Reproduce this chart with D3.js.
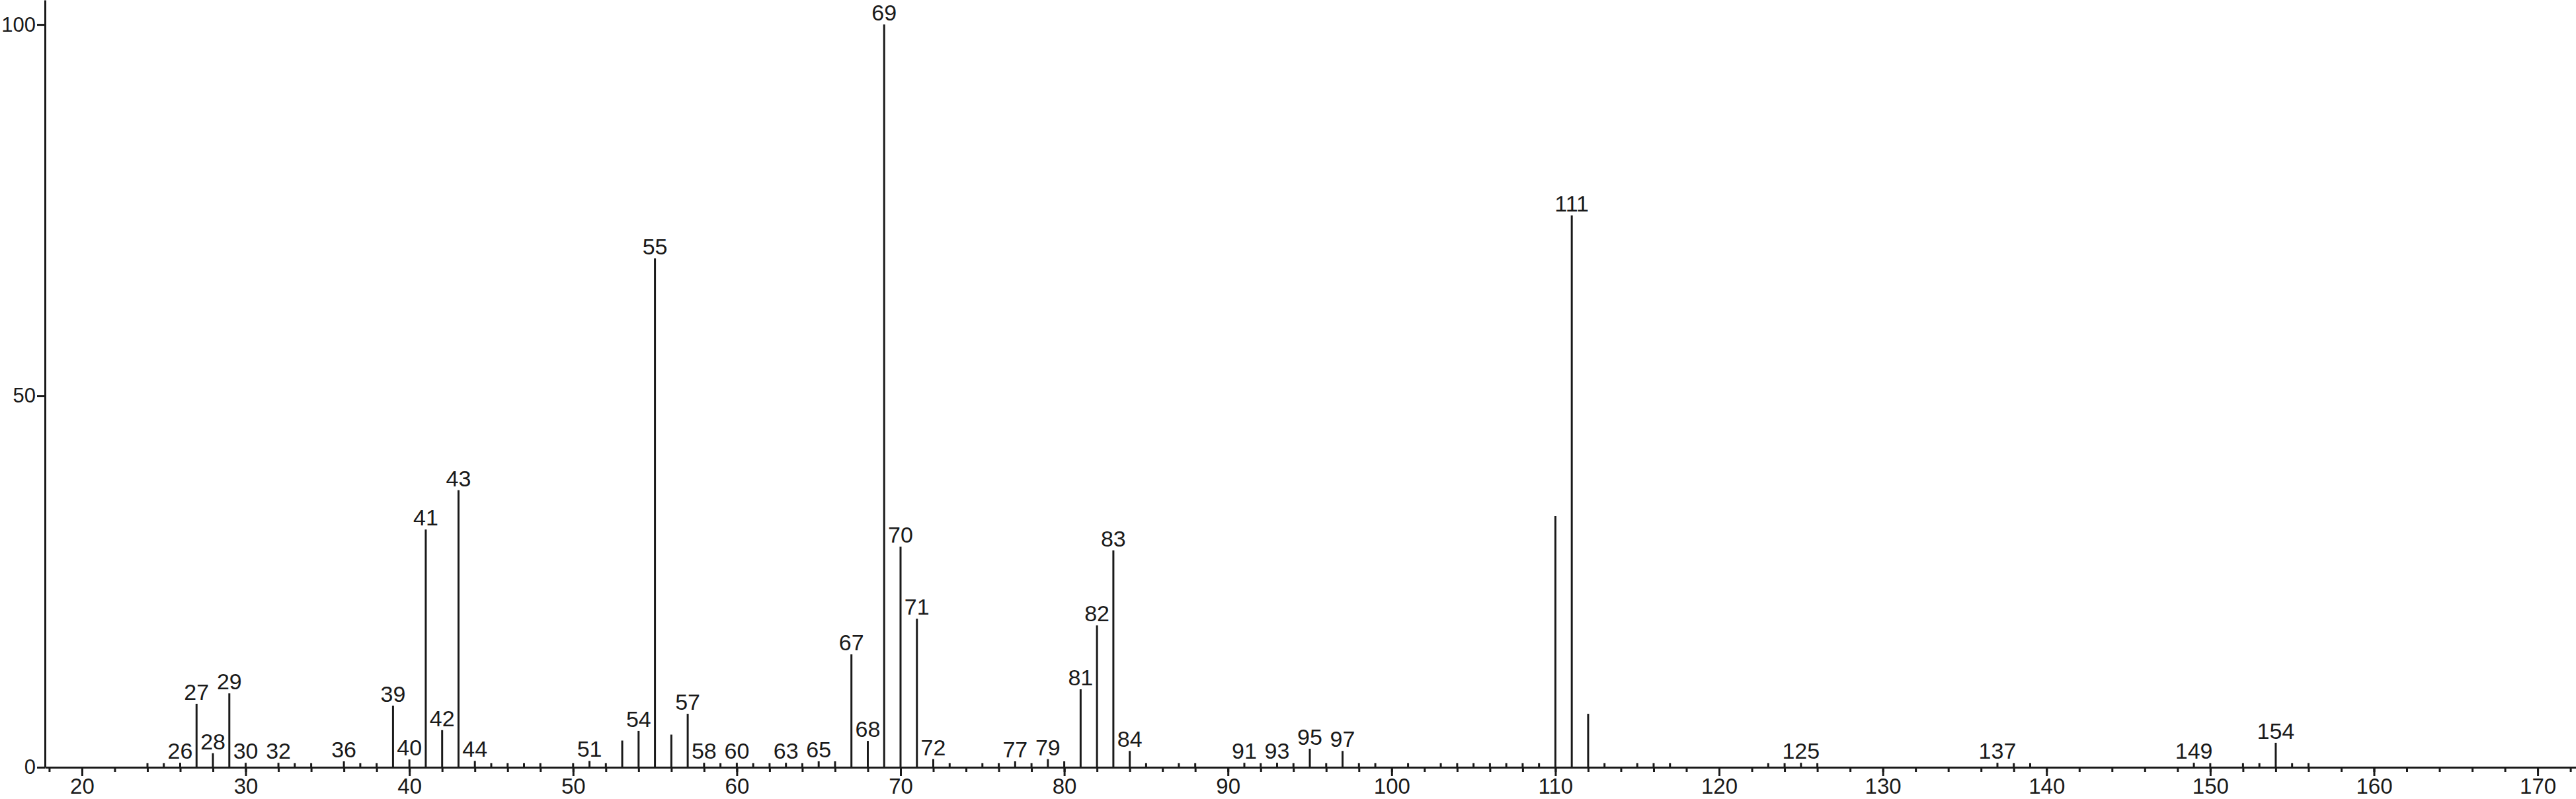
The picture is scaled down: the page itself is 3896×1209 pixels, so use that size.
<!DOCTYPE html>
<html>
<head>
<meta charset="utf-8">
<script src="https://cdn.jsdelivr.net/npm/d3@7"></script>
<style>
  body { margin: 0; background: #fff; }
  text { font-family: "Liberation Sans", Arial, sans-serif; fill: #1a1a1a; }
</style>
</head>
<body>
<div id="spectrum"></div>
<script>

// m/z of every peak in the spectrum.
var mz = [24, 25, 26, 27, 28, 29, 30, 32, 33, 34, 36, 37, 38, 39, 40, 41, 42, 43, 44, 45,
  46, 47, 48, 50, 51, 52, 53, 54, 55, 56, 57, 58, 59, 60, 61, 62, 63, 64, 65, 66,
  67, 68, 69, 70, 71, 72, 73, 75, 76, 77, 78, 79, 80, 81, 82, 83, 84, 85, 87, 88,
  91, 92, 93, 94, 95, 96, 97, 98, 99, 101, 103, 104, 105, 106, 107, 108, 109, 110, 111, 112,
  113, 115, 116, 117, 123, 124, 125, 126, 137, 138, 139, 149, 150, 152, 153, 154, 155, 156];

// Relative abundance (%) of each peak, same order as mz.
var abundance = [0.55, 0.55, 0.6, 8.55, 1.9, 9.95, 0.6, 0.6, 0.55, 0.55, 0.8, 0.55, 0.55, 8.3, 1.05, 32.0, 5.0, 37.3, 0.85, 0.55,
  0.55, 0.55, 0.55, 0.55, 0.85, 0.55, 3.6, 4.9, 68.5, 4.4, 7.2, 0.6, 0.55, 0.6, 0.55, 0.55, 0.6, 0.55, 0.8, 0.8,
  15.2, 3.55, 100, 29.7, 20.0, 1.1, 0.55, 0.55, 0.55, 0.8, 0.55, 1.1, 0.8, 10.5, 19.1, 29.2, 2.2, 0.55, 0.55, 0.55,
  0.6, 0.55, 0.6, 0.55, 2.5, 0.55, 2.2, 0.55, 0.55, 0.55, 0.55, 0.55, 0.55, 0.55, 0.55, 0.55, 0.55, 33.8, 74.3, 7.2,
  0.55, 0.55, 0.55, 0.55, 0.55, 0.55, 0.6, 0.55, 0.6, 0.55, 0.55, 0.6, 0.55, 0.55, 0.55, 3.3, 0.55, 0.56];

// Peaks that carry an m/z label.
var labeled = [26, 27, 28, 29, 30, 32, 36, 39, 40, 41, 42, 43, 44, 51, 54, 55, 57, 58, 60, 63,
  65, 67, 68, 69, 70, 71, 72, 77, 79, 81, 82, 83, 84, 91, 93, 95, 97, 111, 125, 137, 149, 154];

// Axis ticks.
var xMajorTicks = [20, 30, 40, 50, 60, 70, 80, 90, 100, 110, 120, 130, 140, 150, 160, 170];
var xMinorTicks = d3.range(18, 173, 2);
var yTicks = [0, 50, 100];

var width = 3896, height = 1209;
var margin = {left: 68, right: 0, top: 0, baseline: 1161};
var ink = "#1a1a1a";

var svg = d3.select("#spectrum")
  .append("svg")
  .attr("width", width)
  .attr("height", height);

var x = d3.scaleLinear()
  .domain([17.74, 172.34])
  .range([margin.left, width - margin.right]);

var y = d3.scaleLinear()
  .domain([0, 103.3])
  .range([margin.baseline, margin.top]);

var peaks = mz.map(function(m, i) { return {mz: m, value: abundance[i]}; });

// Minor ticks every 2 units.
svg.append("g")
  .attr("transform", "translate(0," + margin.baseline + ")")
  .call(d3.axisBottom(x).tickValues(xMinorTicks).tickSize(7).tickFormat(""))
  .call(function(g) { g.select(".domain").remove(); });

// Major ticks with labels.
var xAxis = svg.append("g")
  .attr("transform", "translate(0," + margin.baseline + ")")
  .call(d3.axisBottom(x).tickValues(xMajorTicks).tickSize(13).tickPadding(4).tickSizeOuter(0));

xAxis.selectAll("text")
  .attr("font-size", 33)
  .attr("font-family", null);

var yAxis = svg.append("g")
  .attr("transform", "translate(" + margin.left + ",0)")
  .call(d3.axisLeft(y).tickValues(yTicks).tickSize(12).tickPadding(2).tickSizeOuter(0));

yAxis.selectAll("text")
  .attr("font-size", 31)
  .attr("font-family", null);

svg.selectAll(".domain, .tick line")
  .attr("stroke", ink)
  .attr("stroke-width", 3);

svg.selectAll(".tick text").attr("fill", ink);

// Peaks as sticks.
svg.selectAll("line.peak")
  .data(peaks)
  .enter()
  .append("line")
  .attr("class", "peak")
  .attr("x1", function(d) { return x(d.mz); })
  .attr("x2", function(d) { return x(d.mz); })
  .attr("y1", y(0))
  .attr("y2", function(d) { return y(d.value); })
  .attr("stroke", ink)
  .attr("stroke-width", 3);

// Peak labels.
svg.selectAll("text.peaklabel")
  .data(peaks.filter(function(d) { return labeled.indexOf(d.mz) >= 0; }))
  .enter()
  .append("text")
  .attr("class", "peaklabel")
  .attr("x", function(d) { return x(d.mz); })
  .attr("y", function(d) { return y(d.value) - 6; })
  .attr("text-anchor", "middle")
  .attr("font-size", 34)
  .text(function(d) { return d.mz; });

</script>
</body>
</html>
